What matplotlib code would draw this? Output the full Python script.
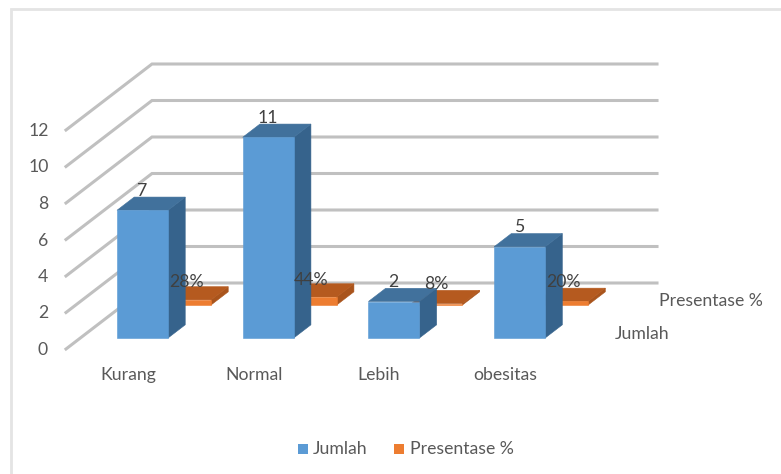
import matplotlib
matplotlib.use("Agg")
import matplotlib.pyplot as plt
from matplotlib.patches import Polygon, Rectangle

categories = ["Kurang", "Normal", "Lebih", "obesitas"]
jumlah = [7, 11, 2, 5]
presentase = [0.28, 0.44, 0.08, 0.20]
presentase_labels = ["28%", "44%", "8%", "20%"]
y_ticks = [0, 2, 4, 6, 8, 10, 12]
series_names = ["Jumlah", "Presentase %"]

W, H = 781, 474
FONT_SIZE = 12.7
plt.rcParams["font.family"] = ["Lato", "DejaVu Sans"]

fig = plt.figure(figsize=(W / 100, H / 100), dpi=100)
ax = fig.add_axes([0, 0, 1, 1])
ax.set_xlim(0, W)
ax.set_ylim(H, 0)
ax.axis("off")

# Oblique projection of the chart box onto the page
ORIGIN_X, ORIGIN_Y = 66.0, 349.0
UNIT_Y = 18.25
DEPTH_DX, DEPTH_DY = 43.0, -33.0
CAT_STEP = 125.7
BAR_W = 51.0
BAR_DEPTH = 0.4
FLOOR_RIGHT = 657.0


def project(x, value, depth):
    return (ORIGIN_X + x + depth * DEPTH_DX,
            ORIGIN_Y - value * UNIT_Y + depth * DEPTH_DY)


def draw_bar(x, value, depth, front, top, side, z):
    x0, x1 = x, x + BAR_W
    d0, d1 = depth, depth + BAR_DEPTH
    faces = [
        ([project(x1, 0, d0), project(x1, 0, d1), project(x1, value, d1), project(x1, value, d0)], side),
        ([project(x0, value, d0), project(x1, value, d0), project(x1, value, d1), project(x0, value, d1)], top),
        ([project(x0, 0, d0), project(x1, 0, d0), project(x1, value, d0), project(x0, value, d0)], front),
    ]
    for pts, color in faces:
        ax.add_patch(Polygon(pts, closed=True, facecolor=color, edgecolor=color, linewidth=0.4, zorder=z))


# Outer chart frame
ax.add_patch(Rectangle((10.5, 8.5), W, H, facecolor="white", edgecolor="#e4e4e4", linewidth=2, zorder=0))

# Gridlines: side wall plus back wall, with tick labels at the front end
for t in y_ticks:
    fx, fy = project(0, t, 0)
    bx, by = project(0, t, 2)
    ax.plot([fx, bx, FLOOR_RIGHT], [fy, by, by], color="#c0c0c0", linewidth=2.2,
            solid_joinstyle="miter", zorder=1)
    tick_x = 38.5 if t >= 10 else 43
    ax.text(tick_x, fy + 1.0, str(t), ha="center", va="center", fontsize=FONT_SIZE, color="#595959")

FIRST_X = 36.7
BLUE_DEPTH = 0.333
ORANGE_DEPTH = 1.333

# Back series first so the front series overlaps it
for i, v in enumerate(presentase):
    draw_bar(FIRST_X + i * CAT_STEP, v, ORANGE_DEPTH, "#ed7d31", "#b55a1f", "#a9541c", 2 + i * 0.01)
for i, v in enumerate(jumlah):
    draw_bar(FIRST_X + i * CAT_STEP, v, BLUE_DEPTH, "#5b9bd5", "#41719c", "#36638c", 3 + i * 0.01)

# Value labels
label_x = [142, 268, 393.5, 520]
for x, v in zip(label_x, jumlah):
    ax.text(x, project(0, v, BLUE_DEPTH + BAR_DEPTH)[1] - 6.5, str(v), ha="center", va="center",
            fontsize=FONT_SIZE, color="#404040", zorder=5)
pct_x = [186, 311, 436.5, 563]
pct_y = [282, 280, 284, 282]
for x, y, s in zip(pct_x, pct_y, presentase_labels):
    ax.text(x, y, s, ha="center", va="center", fontsize=FONT_SIZE, color="#404040", zorder=5)

# Category and depth axis labels
cat_label_x = [128, 254, 378.5, 505.5]
for x, name in zip(cat_label_x, categories):
    ax.text(x, 375, name, ha="center", va="center", fontsize=FONT_SIZE, color="#595959")
ax.text(711, 301, series_names[1], ha="center", va="center", fontsize=FONT_SIZE, color="#595959")
ax.text(642, 334, series_names[0], ha="center", va="center", fontsize=FONT_SIZE, color="#595959")

# Legend
ax.add_patch(Rectangle((298, 444), 10, 10, facecolor="#5b9bd5", edgecolor="none"))
ax.text(313, 449, series_names[0], ha="left", va="center", fontsize=FONT_SIZE, color="#595959")
ax.add_patch(Rectangle((394, 444), 10, 10, facecolor="#ed7d31", edgecolor="none"))
ax.text(410, 449, series_names[1], ha="left", va="center", fontsize=FONT_SIZE, color="#595959")

fig.savefig("out.png", dpi=100)
